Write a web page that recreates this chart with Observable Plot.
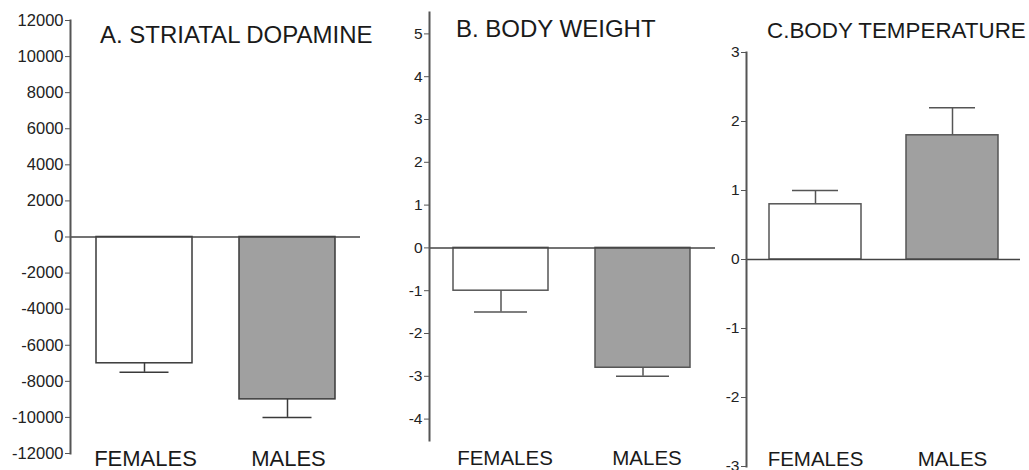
<!DOCTYPE html>
<html>
<head>
<meta charset="utf-8">
<script src="https://cdn.jsdelivr.net/npm/d3@7"></script>
<script src="https://cdn.jsdelivr.net/npm/@observablehq/plot@0.6"></script>
<style>
  html, body { margin: 0; padding: 0; background: #fff; }
  #chart { position: relative; width: 1029px; height: 470px; overflow: hidden; background: #fff;
           font-family: "Liberation Sans", Arial, Helvetica, sans-serif; color: #1a1a1a; }
  .panel { position: absolute; top: 0; }
  .title { position: absolute; white-space: nowrap; line-height: 1; color: #1a1a1a; }
  #panel0 g[aria-label="y-axis tick label"] { font-size: 16.5px; }
  #panel1 g[aria-label="y-axis tick label"], #panel2 g[aria-label="y-axis tick label"] { font-size: 15.5px; }
</style>
</head>
<body>
<div id="chart"></div>
<script>
// ---- data ----
const categories = ["FEMALES", "MALES"];

const dopamineMean = [-7000, -9000];
const dopamineErr = [500, 1000];
const dopamineTicks = [-12000, -10000, -8000, -6000, -4000, -2000, 0, 2000, 4000, 6000, 8000, 10000, 12000];

const weightMean = [-1.0, -2.8];
const weightErr = [0.5, 0.2];
const weightTicks = [-4, -3, -2, -1, 0, 1, 2, 3, 4, 5];

const tempMean = [0.8, 1.8];
const tempErr = [0.2, 0.4];
const tempTicks = [-3, -2, -1, 0, 1, 2, 3];

const titles = ["A. STRIATAL DOPAMINE", "B. BODY WEIGHT", "C.BODY TEMPERATURE"];

// ---- helpers ----
function rowsOf(means, errs) {
  return categories.map((c, i) => ({
    cat: c,
    mean: means[i],
    end: means[i] + Math.sign(means[i]) * errs[i]
  }));
}

function panel(o) {
  const rows = rowsOf(o.means, o.errs);
  const ink = o.ink;
  return Plot.plot({
    width: o.width,
    height: 470,
    marginLeft: o.marginLeft,
    marginRight: o.marginRight,
    marginTop: o.marginTop,
    marginBottom: o.marginBottom,
    style: { fontFamily: "'Liberation Sans', Arial, Helvetica, sans-serif", color: "#1a1a1a", background: "transparent", overflow: "visible" },
    x: { type: "band", domain: categories, paddingInner: 0.33, paddingOuter: o.po },
    y: { domain: o.domain },
    color: { domain: categories, range: ["#ffffff", "#a0a0a0"] },
    marks: [
      Plot.barY(rows, { x: "cat", y: "mean", fill: "cat", stroke: ink, strokeWidth: 1.5 }),
      Plot.ruleX(rows, { x: "cat", y1: "mean", y2: "end", stroke: ink, strokeWidth: 1.5 }),
      Plot.tickY(rows, { x: "cat", y: "end", insetLeft: o.capInset, insetRight: o.capInset, stroke: ink, strokeWidth: 1.5 }),
      Plot.ruleY([0], { stroke: "#444", strokeWidth: 1.5 }),
      Plot.frame({ anchor: "left", stroke: "#555", strokeWidth: 2 }),
      Plot.axisY({ ticks: o.ticks, tickFormat: d => String(d), tickSize: 5, tickPadding: 2,
                   fontSize: o.tickFont, stroke: "#555", fill: "#222", label: null }),
      Plot.axisX({ tickSize: 0, tickPadding: o.catPadding, fontSize: o.catFont, fill: "#1a1a1a",
                   dx: o.catDx, label: null })
    ]
  });
}

// ---- layout ----
const chart = document.getElementById("chart");

const specs = [
  { left: 0, width: 370, marginLeft: 70, marginRight: 10, marginTop: 20, marginBottom: 17,
    domain: [-12000, 12000], means: dopamineMean, errs: dopamineErr, ticks: dopamineTicks,
    tickFont: 16.5, catFont: 22, catPadding: -3.5, catDx: 1, capInset: 23.5, po: 0.175, ink: "#3a3a3a" },
  { left: 380, width: 345, marginLeft: 49, marginRight: 10, marginTop: 12, marginBottom: 30,
    domain: [-4.5, 5.5], means: weightMean, errs: weightErr, ticks: weightTicks,
    tickFont: 15.5, catFont: 20.5, catPadding: 10, catDx: 4, capInset: 21, po: 0.168, ink: "#555" },
  { left: 700, width: 329, marginLeft: 46, marginRight: 9, marginTop: 52, marginBottom: 4,
    domain: [-3, 3], means: tempMean, errs: tempErr, ticks: tempTicks,
    tickFont: 15.5, catFont: 20.5, catPadding: -15.5, catDx: 0, capInset: 23, po: 0.164, ink: "#555" }
];

specs.forEach((s, i) => {
  const svg = panel(s);
  svg.classList.add("panel");
  svg.id = "panel" + i;
  svg.style.left = s.left + "px";
  chart.appendChild(svg);
});

const titleSpecs = [
  { text: titles[0], left: 100, top: 22.5, size: 24 },
  { text: titles[1], left: 456, top: 17, size: 24 },
  { text: titles[2], left: 767, top: 20, size: 22.4 }
];
titleSpecs.forEach(t => {
  const d = document.createElement("div");
  d.className = "title";
  d.textContent = t.text;
  d.style.left = t.left + "px";
  d.style.top = t.top + "px";
  d.style.fontSize = t.size + "px";
  chart.appendChild(d);
});
</script>
</body>
</html>
